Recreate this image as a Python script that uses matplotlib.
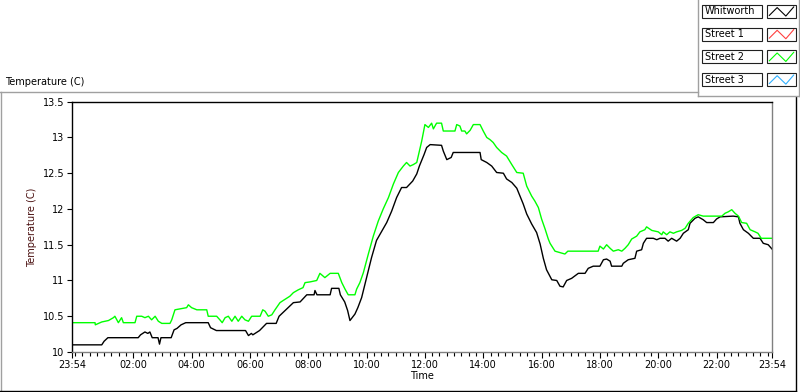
import matplotlib
matplotlib.use("Agg")
import matplotlib.pyplot as plt
from matplotlib.lines import Line2D
from matplotlib.patches import Rectangle
import numpy as np

plt.rcParams['font.family'] = 'DejaVu Sans'
plt.rcParams['font.size'] = 7

# hours since 23:54 and temperature (C)
whit_h = [0.00, 1.02, 1.10, 1.23, 2.27, 2.35, 2.50, 2.60, 2.67, 2.75, 2.95, 3.00, 3.05, 3.40,
          3.50, 3.60, 3.74, 3.90, 4.67, 4.75, 4.95, 5.95, 6.05, 6.15, 6.20, 6.43, 6.67, 7.00,
          7.10, 7.36, 7.59, 7.82, 8.05, 8.30, 8.33, 8.40, 8.85, 8.90, 9.15, 9.20, 9.35, 9.45,
          9.53, 9.70, 9.80, 9.93, 10.10, 10.27, 10.44, 10.62, 10.79, 10.96, 11.13, 11.30,
          11.47, 11.68, 11.82, 11.91, 12.07, 12.16, 12.28, 12.67, 12.73, 12.85, 13.00, 13.07,
          13.99, 14.03, 14.22, 14.39, 14.56, 14.79, 14.90, 15.08, 15.25, 15.36, 15.47, 15.59,
          15.76, 15.93, 16.05, 16.16, 16.27, 16.45, 16.62, 16.73, 16.84, 16.96, 17.13, 17.36,
          17.59, 17.70, 17.87, 18.10, 18.22, 18.33, 18.45, 18.50, 18.85, 18.90, 19.07, 19.30,
          19.36, 19.53, 19.59, 19.70, 19.93, 20.05, 20.16, 20.33, 20.44, 20.56, 20.73, 20.85,
          20.96, 21.13, 21.19, 21.36, 21.47, 21.64, 21.76, 21.99, 22.10, 22.22, 22.67, 22.85,
          22.90, 23.02, 23.19, 23.36, 23.59, 23.70, 23.87, 24.00]
whit_t = [10.10, 10.10, 10.15, 10.20, 10.20, 10.24, 10.28, 10.26, 10.28, 10.20, 10.20, 10.11,
          10.20, 10.20, 10.31, 10.33, 10.38, 10.41, 10.41, 10.34, 10.30, 10.30, 10.23, 10.26,
          10.24, 10.30, 10.40, 10.40, 10.50, 10.60, 10.69, 10.70, 10.80, 10.80, 10.86, 10.80,
          10.80, 10.89, 10.89, 10.80, 10.70, 10.58, 10.44, 10.53, 10.62, 10.76, 11.04, 11.32,
          11.56, 11.69, 11.81, 11.97, 12.16, 12.30, 12.30, 12.39, 12.49, 12.60, 12.76, 12.86,
          12.90, 12.89, 12.81, 12.69, 12.72, 12.79, 12.79, 12.69, 12.65, 12.60, 12.51, 12.50,
          12.42, 12.37, 12.29, 12.18, 12.07, 11.93, 11.79, 11.67, 11.51, 11.31, 11.15, 11.01,
          11.00, 10.92, 10.91, 11.00, 11.03, 11.10, 11.10, 11.17, 11.20, 11.20, 11.29, 11.30,
          11.27, 11.20, 11.20, 11.24, 11.29, 11.31, 11.41, 11.43, 11.52, 11.59, 11.59, 11.57,
          11.59, 11.59, 11.55, 11.59, 11.55, 11.59, 11.66, 11.71, 11.80, 11.87, 11.89, 11.85,
          11.81, 11.81, 11.86, 11.89, 11.90, 11.89, 11.80, 11.71, 11.66, 11.59, 11.59, 11.52,
          11.50, 11.44]

st2_h = [0.00, 0.79, 0.80, 1.02, 1.25, 1.42, 1.47, 1.59, 1.70, 1.76, 2.16, 2.22, 2.39, 2.50,
         2.62, 2.73, 2.85, 2.96, 3.08, 3.36, 3.42, 3.53, 3.93, 3.99, 4.10, 4.28, 4.62, 4.67,
         4.96, 5.07, 5.15, 5.25, 5.36, 5.48, 5.59, 5.70, 5.82, 5.93, 6.05, 6.16, 6.45, 6.54,
         6.62, 6.73, 6.85, 6.96, 7.13, 7.24, 7.47, 7.59, 7.76, 7.92, 7.99, 8.16, 8.39, 8.50,
         8.67, 8.85, 9.13, 9.25, 9.36, 9.47, 9.70, 9.76, 9.87, 9.99, 10.16, 10.33, 10.50,
         10.67, 10.85, 11.02, 11.19, 11.36, 11.47, 11.59, 11.70, 11.82, 11.91, 11.99, 12.10,
         12.22, 12.33, 12.39, 12.50, 12.67, 12.73, 13.13, 13.19, 13.30, 13.36, 13.47, 13.53,
         13.65, 13.76, 13.99, 14.10, 14.22, 14.33, 14.44, 14.56, 14.73, 14.90, 15.08, 15.25,
         15.47, 15.59, 15.76, 15.87, 15.99, 16.10, 16.22, 16.33, 16.39, 16.56, 16.90, 17.00,
         18.04, 18.10, 18.22, 18.33, 18.45, 18.56, 18.73, 18.85, 18.96, 19.07, 19.19, 19.36,
         19.47, 19.64, 19.70, 19.88, 20.10, 20.22, 20.27, 20.39, 20.50, 20.62, 20.73, 20.90,
         21.02, 21.13, 21.30, 21.47, 21.64, 22.28, 22.39, 22.50, 22.62, 22.73, 22.85, 22.96,
         23.13, 23.25, 23.42, 23.52, 23.63, 24.00]
st2_t = [10.41, 10.41, 10.38, 10.42, 10.44, 10.48, 10.50, 10.41, 10.48, 10.41, 10.41, 10.50,
         10.50, 10.48, 10.50, 10.45, 10.50, 10.43, 10.40, 10.40, 10.45, 10.59, 10.62, 10.66,
         10.62, 10.59, 10.59, 10.50, 10.50, 10.45, 10.41, 10.48, 10.50, 10.43, 10.50, 10.43,
         10.50, 10.45, 10.43, 10.50, 10.50, 10.59, 10.57, 10.50, 10.52, 10.59, 10.69, 10.72,
         10.78, 10.83, 10.87, 10.90, 10.97, 10.98, 11.00, 11.10, 11.04, 11.10, 11.10, 10.97,
         10.88, 10.80, 10.80, 10.88, 10.97, 11.11, 11.37, 11.62, 11.83, 12.00, 12.16, 12.35,
         12.51, 12.60, 12.65, 12.60, 12.62, 12.65, 12.81, 12.95, 13.18, 13.14, 13.20, 13.12,
         13.20, 13.20, 13.09, 13.09, 13.18, 13.16, 13.09, 13.09, 13.05, 13.10, 13.18, 13.18,
         13.09, 13.00, 12.97, 12.93, 12.86, 12.79, 12.74, 12.62, 12.51, 12.50, 12.32, 12.18,
         12.11, 12.02, 11.86, 11.72, 11.58, 11.52, 11.41, 11.37, 11.41, 11.41, 11.48, 11.44,
         11.50, 11.45, 11.41, 11.43, 11.41, 11.45, 11.50, 11.58, 11.62, 11.68, 11.71, 11.75,
         11.70, 11.68, 11.64, 11.68, 11.64, 11.68, 11.66, 11.68, 11.70, 11.73, 11.80, 11.88,
         11.92, 11.90, 11.90, 11.94, 11.96, 11.99, 11.94, 11.90, 11.81, 11.80, 11.71, 11.68,
         11.66, 11.59, 11.59]

series_names = ['Whitworth', 'Street 1', 'Street 2', 'Street 3']
series_colors = ['#000000', '#ff4040', '#00ff00', '#30b0ff']
tick_labels = ['23:54', '02:00', '04:00', '06:00', '08:00', '10:00', '12:00',
               '14:00', '16:00', '18:00', '20:00', '22:00', '23:54']

W, H = 800, 392
fig = plt.figure(figsize=(W / 100, H / 100), dpi=100)


def fx(x):
    return x / W


def fy(y):
    return 1 - y / H


ax = fig.add_axes([fx(72), fy(352), fx(700), (352 - 101.7) / H])
ax.plot(whit_h, whit_t, color=series_colors[0], lw=1.0)
ax.plot(st2_h, st2_t, color=series_colors[2], lw=1.0)

ax.set_xlim(0, 24)
ax.set_ylim(10, 13.5)
major = [0] + [2.1 + 2 * i for i in range(11)] + [24]
ax.set_xticks(major)
ax.set_xticklabels(tick_labels)
minor = [m for m in np.arange(0.1, 24, 0.25) if min(abs(m - np.array(major))) > 0.01]
ax.set_xticks(minor, minor=True)
ax.set_yticks(np.arange(10, 13.51, 0.5))
ax.set_yticklabels(['10', '10.5', '11', '11.5', '12', '12.5', '13', '13.5'])
ax.tick_params(axis='both', which='major', length=4.3, width=0.8, pad=1.5, labelsize=7)
ax.tick_params(axis='x', which='minor', length=2.8, width=0.8)
ax.tick_params(axis='y', which='major', length=3.6, pad=2)

ax.spines['top'].set_color('black')
ax.spines['left'].set_color('black')
ax.spines['right'].set_color('#808080')
ax.spines['bottom'].set_color('#808080')
for s in ax.spines.values():
    s.set_linewidth(1.0)

ax.set_ylabel('Temperature (C)', color='#4a1010', fontsize=7, labelpad=4)
ax.set_xlabel('Time', fontsize=7, labelpad=1)

# panel frame
gray = '#a0a0a0'
fig.add_artist(Line2D([fx(0), fx(698)], [fy(92.3), fy(92.3)], color=gray, lw=1))
fig.add_artist(Line2D([fx(0.5), fx(0.5)], [fy(92.3), fy(391)], color=gray, lw=1))
fig.add_artist(Line2D([fx(0), fx(796)], [fy(391), fy(391)], color='black', lw=1))
fig.add_artist(Line2D([fx(796), fx(796)], [fy(97), fy(391)], color='black', lw=1))
fig.add_artist(Line2D([fx(698), fx(698)], [fy(0), fy(96)], color=gray, lw=1))
fig.add_artist(Line2D([fx(698), fx(799)], [fy(96), fy(96)], color=gray, lw=1))
fig.add_artist(Line2D([fx(799), fx(799)], [fy(0), fy(96)], color=gray, lw=1))

fig.text(fx(5), fy(82), 'Temperature (C)', fontsize=7, va='center', ha='left')

# legend boxes
zig_x = [0.08, 0.35, 0.65, 0.92]
zig_y = [0.2, 0.8, 0.15, 0.85]
for i, (name, col) in enumerate(zip(series_names, series_colors)):
    top = 5 + i * 22.7
    fig.add_artist(Rectangle((fx(702), fy(top + 13)), fx(60), 13 / H,
                             facecolor='white', edgecolor='#202020', lw=0.8))
    fig.text(fx(705), fy(top + 6.5), name, fontsize=7, va='center', ha='left')
    fig.add_artist(Rectangle((fx(767), fy(top + 13)), fx(29), 13 / H,
                             facecolor='white', edgecolor='#202020', lw=0.8))
    fig.add_artist(Line2D([fx(767 + 29 * z) for z in zig_x],
                          [fy(top + 13 - 13 * z) for z in zig_y], color=col, lw=0.8))

fig.savefig('out.png', dpi=100)
